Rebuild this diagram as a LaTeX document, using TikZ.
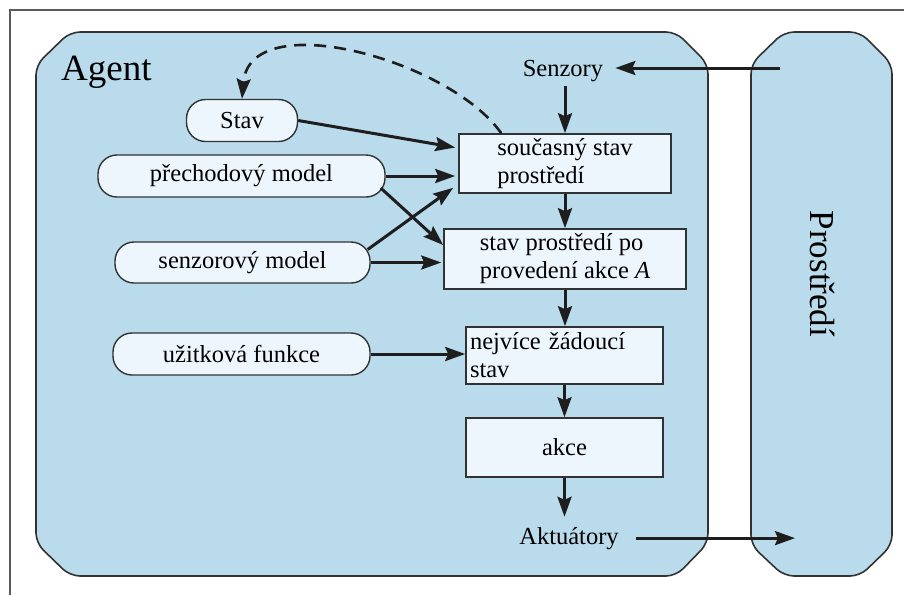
\documentclass[tikz,border=0pt]{standalone}
\usepackage{fontspec}
\setmainfont{Liberation Serif}
\usetikzlibrary{arrows.meta}
\definecolor{agentblue}{RGB}{185,219,235}
\definecolor{boxfill}{RGB}{238,246,253}
\definecolor{edgec}{RGB}{50,50,50}
\definecolor{arrowc}{RGB}{30,30,30}
\definecolor{framec}{RGB}{90,90,90}
\begin{document}
\begin{tikzpicture}[x=1pt,y=-1pt,
  txt/.style={font=\fontsize{24.5}{28}\selectfont, text=black},
  statebox/.style={txt, draw=edgec, line width=1.6pt, fill=boxfill, rectangle, align=left, inner sep=0pt},
  pill/.style={txt, draw=edgec, line width=1.4pt, fill=boxfill, rectangle, rounded corners=19pt, inner sep=0pt},
  arr/.style={draw=arrowc, line width=3pt, -{Stealth[length=20pt,width=14pt,inset=3pt]}},
  shell/.style={draw=edgec, line width=1.6pt, fill=agentblue, rounded corners=10pt}
]
\useasboundingbox (0,0) rectangle (904,595);
\draw[framec, line width=1.5pt] (904,10) -- (10,10) -- (10,595);
\path[shell] (36,300) -- (36,543) -- (70,576) -- (676,576) -- (708,543) -- (708,64) -- (676,32) -- (70,32) -- (36,65) -- cycle;
\path[shell] (751,300) -- (751,545) -- (784,576) -- (860,576) -- (892,545) -- (892,64) -- (860,32) -- (784,32) -- (751,64) -- cycle;

\node[anchor=base west, inner sep=0pt, font=\fontsize{37}{40}\selectfont] (agent) at (61,80) {Agent};
\node[txt, anchor=base, inner sep=0pt] (senz) at (563,76) {Senzory};
\node[txt, anchor=base, inner sep=0pt] (akt) at (569,544) {Aktuátory};
\node[font=\fontsize{35}{38}\selectfont, rotate=-90, inner sep=0pt] (env) at (822,274) {Prostředí};

\node[statebox, minimum width=212pt, minimum height=59pt] (b1) at (565,163.5) {současný stav\\prostředí};
\node[statebox, minimum width=242pt, minimum height=60pt] (b2) at (565,259) {stav prostředí po\\provedení akce \textit{A}};
\node[statebox, minimum width=197pt, minimum height=57pt, text width=189pt, inner xsep=4pt] (b3) at (564.5,355.5) {nejvíce žádoucí\\stav};
\node[statebox, minimum width=197pt, minimum height=59pt] (b4) at (564.5,447.5) {akce};

\node[pill, minimum width=111pt, minimum height=42pt] (stav) at (242,120.5) {Stav};
\node[pill, minimum width=287pt, minimum height=42pt] (prech) at (241.5,176) {přechodový model};
\node[pill, minimum width=255pt, minimum height=41pt] (senzm) at (242.5,262.5) {senzorový model};
\node[pill, minimum width=257pt, minimum height=42pt] (uzit) at (241.5,354) {užitková funkce};

\coordinate (envout) at (780,68);
\coordinate (aktend) at (795,535);

\draw[arr, shorten >=3pt] (stav.east) -- ([yshift=15.5pt]b1.west);
\draw[arr, shorten >=3pt] (prech.east) -- (prech.east -| b1.west);
\draw[arr] ([xshift=-5pt,yshift=-12pt]prech.east) -- ([yshift=14pt]b2.west);
\draw[arr] ([xshift=-3pt,yshift=13pt]senzm.east) -- ([xshift=-5pt,yshift=6pt]b1.south west);
\draw[arr, shorten >=2pt] (senzm.east) -- (senzm.east -| b2.west);
\draw[arr] (uzit.east) -- (uzit.east -| b3.west);
\draw[arr, shorten <=5pt] (b1.north |- senz.south) -- (b1.north);
\draw[arr] (b1.south) -- (b2.north);
\draw[arr] (b2.south) -- (b2.south |- b3.north);
\draw[arr] (b3.south) -- (b4.north);
\draw[arr, shorten >=10pt] (b4.south) -- (b4.south |- akt.north);
\draw[arr] ([xshift=17pt]akt.east) -- (akt.east -| aktend);
\draw[arr, shorten >=12pt] (envout) -- (envout -| senz.east);
\draw[arr, line width=2.6pt, dash pattern=on 12pt off 8pt] ([xshift=43pt]b1.north west) .. controls (450,60) and (250,5) .. (stav.north);
\end{tikzpicture}
\end{document}
